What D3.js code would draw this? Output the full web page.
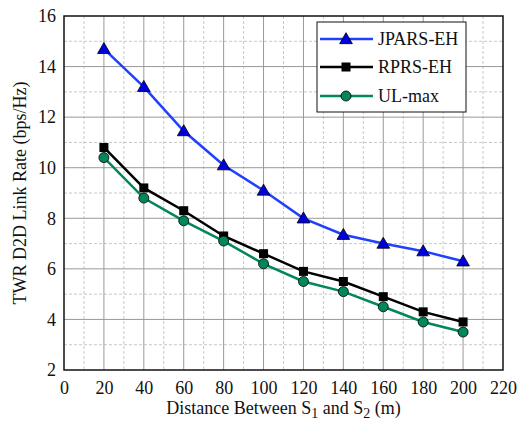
<!DOCTYPE html>
<html><head><meta charset="utf-8">
<script src="https://cdn.jsdelivr.net/npm/d3@7"></script>
</head><body style="margin:0;background:#fff"><svg id="c" width="528" height="434"></svg>
<script>
const distances = [20, 40, 60, 80, 100, 120, 140, 160, 180, 200];
const jparsEH = [14.7, 13.2, 11.45, 10.1, 9.1, 8.0, 7.35, 7.0, 6.7, 6.3];
const rprsEH = [10.8, 9.2, 8.3, 7.3, 6.6, 5.9, 5.5, 4.9, 4.3, 3.9];
const ulMax = [10.4, 8.8, 7.9, 7.1, 6.2, 5.5, 5.1, 4.5, 3.9, 3.5];
const xTicks = [0, 20, 40, 60, 80, 100, 120, 140, 160, 180, 200, 220];
const yTicks = [2, 4, 6, 8, 10, 12, 14, 16];
const seriesNames = ["JPARS-EH", "RPRS-EH", "UL-max"];

const FONT = "Liberation Serif";
const svg = d3.select("#c");
const L = 64, R = 503, T = 16, B = 370;
const x = d3.scaleLinear().domain([0, 220]).range([L, R]);
const y = d3.scaleLinear().domain([2, 16]).range([B, T]);

// minor grid
const g = svg.append("g");
d3.range(10, 220, 20).forEach(v => g.append("line").attr("x1", x(v)).attr("x2", x(v)).attr("y1", T).attr("y2", B)
  .attr("stroke", "#c8c8c8").attr("stroke-dasharray", "3,2").attr("stroke-width", 1));
d3.range(3, 16, 2).forEach(v => g.append("line").attr("y1", y(v)).attr("y2", y(v)).attr("x1", L).attr("x2", R)
  .attr("stroke", "#c8c8c8").attr("stroke-dasharray", "3,2").attr("stroke-width", 1));
// major grid
xTicks.slice(1, -1).forEach(v => g.append("line").attr("x1", x(v)).attr("x2", x(v)).attr("y1", T).attr("y2", B)
  .attr("stroke", "#999").attr("stroke-width", 1));
yTicks.slice(1, -1).forEach(v => g.append("line").attr("y1", y(v)).attr("y2", y(v)).attr("x1", L).attr("x2", R)
  .attr("stroke", "#999").attr("stroke-width", 1));

// axes
const xa = svg.append("g").attr("transform", `translate(0,${B})`)
  .call(d3.axisBottom(x).tickValues(xTicks).tickSize(0).tickPadding(8).tickFormat(d3.format("d")));
const ya = svg.append("g").attr("transform", `translate(${L},0)`)
  .call(d3.axisLeft(y).tickValues(yTicks).tickSize(0).tickPadding(8).tickFormat(d3.format("d")));
[xa, ya].forEach(a => { a.attr("font-family", FONT).attr("font-size", 18); a.select(".domain").remove();
  a.selectAll("text").attr("font-size", 18).attr("fill", "#111").attr("font-family", FONT); });
xa.selectAll("text").attr("dy", "0.9em");

svg.append("rect").attr("x", L).attr("y", T).attr("width", R - L).attr("height", B - T)
  .attr("fill", "none").attr("stroke", "#111").attr("stroke-width", 1.5);

const colors = ["#2040ff", "#000000", "#00875a"];
const fills = ["#0000dd", "#000000", "#00875a"];
const data = [jparsEH, rprsEH, ulMax];
const line = d3.line().x((d, i) => x(distances[i])).y(d => y(d));

function marker(sel, k, cx, cy) {
  if (k === 0) sel.append("path").attr("d", d3.symbol(d3.symbolTriangle, 70)()).attr("transform", `translate(${cx},${cy + 1})`)
    .attr("fill", fills[0]).attr("stroke", "#000").attr("stroke-width", 0.8);
  else if (k === 1) sel.append("rect").attr("x", cx - 4.5).attr("y", cy - 4.5).attr("width", 9).attr("height", 9).attr("fill", "#000");
  else sel.append("circle").attr("cx", cx).attr("cy", cy).attr("r", 5).attr("fill", fills[2]).attr("stroke", "#000").attr("stroke-width", 0.8);
}

data.forEach((vals, k) => {
  svg.append("path").datum(vals).attr("d", line).attr("fill", "none").attr("stroke", colors[k]).attr("stroke-width", 2.5);
  const mg = svg.append("g");
  vals.forEach((v, i) => marker(mg, k, x(distances[i]), y(v)));
});

// legend
const lg = svg.append("g");
lg.append("rect").attr("x", 317).attr("y", 22).attr("width", 149).attr("height", 90).attr("fill", "#fff").attr("stroke", "#111").attr("stroke-width", 1);
const rowsY = [39, 67, 96];
seriesNames.forEach((n, k) => {
  lg.append("line").attr("x1", 320).attr("x2", 373).attr("y1", rowsY[k]).attr("y2", rowsY[k]).attr("stroke", colors[k]).attr("stroke-width", 2.5);
  marker(lg, k, 346, rowsY[k]);
  lg.append("text").attr("x", 378).attr("y", rowsY[k]).attr("dy", "0.35em").attr("font-size", 18).attr("font-family", FONT).attr("fill", "#111").text(n);
});

// titles
const xt = svg.append("text").attr("x", (L + R) / 2).attr("y", 414).attr("text-anchor", "middle").attr("font-size", 18).attr("font-family", FONT).attr("fill", "#111");
xt.append("tspan").text("Distance Between S");
xt.append("tspan").attr("font-size", 14).attr("dy", 4).text("1");
xt.append("tspan").attr("dy", -4).text(" and S");
xt.append("tspan").attr("font-size", 14).attr("dy", 4).text("2");
xt.append("tspan").attr("dy", -4).text(" (m)");
svg.append("text").attr("transform", `translate(26,${(T + B) / 2}) rotate(-90)`).attr("text-anchor", "middle")
  .attr("font-size", 18).attr("font-family", FONT).attr("fill", "#111").text("TWR D2D Link Rate (bps/Hz)");
</script></body></html>
